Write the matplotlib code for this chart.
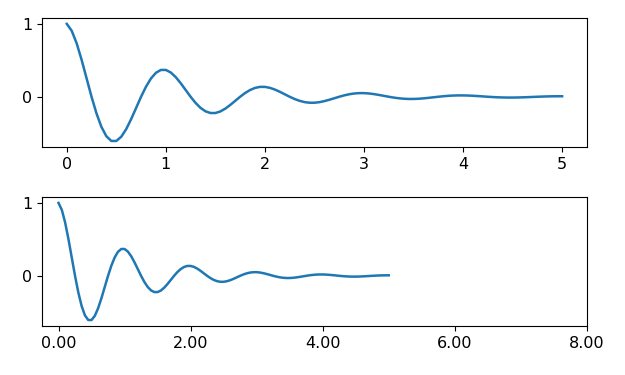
import matplotlib
matplotlib.use("Agg")
import matplotlib.pyplot as plt

t = [i * 0.05 for i in range(101)]
s = [1.000, 0.9047, 0.7320, 0.5059, 0.2530, 0.0, -0.2289, -0.4142, -0.5423, -0.6064,
     -0.6065, -0.5487, -0.4440, -0.3068, -0.1534, 0.0, 0.1388, 0.2512, 0.3289, 0.3678,
     0.3679, 0.3328, 0.2693, 0.1861, 0.0931, 0.0, -0.0842, -0.1524, -0.1995, -0.2231,
     -0.2231, -0.2019, -0.1633, -0.1129, -0.0564, 0.0, 0.0511, 0.0924, 0.1210, 0.1353,
     0.1353, 0.1224, 0.0990, 0.0685, 0.0342, 0.0, -0.0310, -0.0560, -0.0734, -0.0820,
     -0.0821, -0.0742, -0.0601, -0.0415, -0.0208, 0.0, 0.0188, 0.0340, 0.0445, 0.0498,
     0.0498, 0.0450, 0.0364, 0.0252, 0.0126, 0.0, -0.0114, -0.0206, -0.0270, -0.0302,
     -0.0302, -0.0273, -0.0221, -0.0153, -0.0076, 0.0, 0.0069, 0.0125, 0.0164, 0.0183,
     0.0183, 0.0166, 0.0134, 0.0093, 0.0046, 0.0, -0.0042, -0.0076, -0.0099, -0.0111,
     -0.0111, -0.0101, -0.0081, -0.0056, -0.0028, 0.0, 0.0025, 0.0046, 0.0060, 0.0067,
     0.0067]

y_ticks = [0, 1]
bottom_ticks = [0, 2, 4, 6, 8]

plt.rcParams['font.size'] = 11.5
plt.rcParams['lines.linewidth'] = 1.8

fig, (ax1, ax2) = plt.subplots(2, 1, figsize=(6.25, 3.75), dpi=100)
fig.subplots_adjust(left=0.0672, right=0.939, top=0.952, bottom=0.131, hspace=0.39)

ax1.plot(t, s)
ax1.set_yticks(y_ticks)

ax2.plot(t, s)
ax2.set_yticks(y_ticks)
ax2.set_xlim(-0.25, 8)
ax2.set_xticks(bottom_ticks)
ax2.xaxis.set_major_formatter('{x:.2f}')

fig.savefig("out.png")
